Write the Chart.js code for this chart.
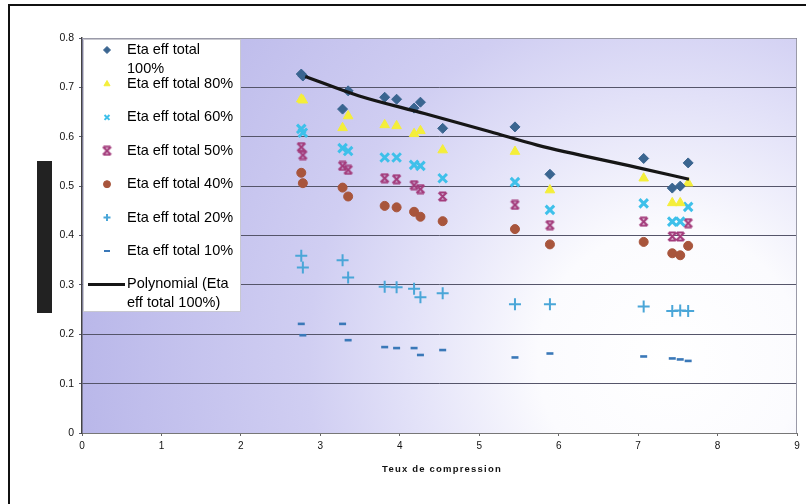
<!DOCTYPE html>
<html>
<head>
<meta charset="utf-8">
<script src="https://cdn.jsdelivr.net/npm/chart.js@4/dist/chart.umd.min.js"></script>
<style>
  html, body { margin: 0; padding: 0; background: #fff; }
  #wrap { width: 806px; height: 504px; position: relative; }
</style>
</head>
<body>
<div id="wrap"><canvas id="chart" width="806" height="504"></canvas></div>
<script>
// compression ratios (x) shared by every series
const xValues = [2.76, 2.78, 3.28, 3.35, 3.81, 3.96, 4.18, 4.26, 4.54, 5.45, 5.89, 7.07, 7.43, 7.53, 7.63];

const eta100 = [0.727, 0.723, 0.656, 0.693, 0.680, 0.676, 0.658, 0.670, 0.617, 0.620, 0.524, 0.556, 0.496, 0.500, 0.547];
const eta80  = [0.676, 0.674, 0.618, 0.642, 0.624, 0.622, 0.606, 0.612, 0.573, 0.570, 0.492, 0.516, 0.466, 0.466, 0.506];
const eta60  = [0.616, 0.608, 0.577, 0.571, 0.558, 0.558, 0.543, 0.541, 0.516, 0.508, 0.452, 0.465, 0.428, 0.428, 0.458];
const eta50  = [0.579, 0.563, 0.541, 0.533, 0.516, 0.514, 0.502, 0.494, 0.479, 0.462, 0.421, 0.428, 0.398, 0.398, 0.425];
const eta40  = [0.527, 0.506, 0.497, 0.479, 0.460, 0.457, 0.448, 0.438, 0.429, 0.413, 0.382, 0.387, 0.364, 0.360, 0.379];
const eta20  = [0.359, 0.335, 0.350, 0.315, 0.296, 0.295, 0.292, 0.275, 0.283, 0.261, 0.261, 0.256, 0.247, 0.248, 0.247];
const eta10  = [0.221, 0.198, 0.221, 0.188, 0.174, 0.172, 0.172, 0.158, 0.168, 0.153, 0.161, 0.155, 0.151, 0.149, 0.146];

// polynomial trendline of the 100% series
const trendX = [2.81, 3.48, 4.31, 5.14, 5.73, 6.98, 7.64];
const trendY = [0.722, 0.683, 0.647, 0.610, 0.583, 0.538, 0.514];

const legendLabels = [
    ['Eta eff total', '100%'],
    ['Eta eff total 80%'],
    ['Eta eff total 60%'],
    ['Eta eff total 50%'],
    ['Eta eff total 40%'],
    ['Eta eff total 20%'],
    ['Eta eff total 10%'],
    ['Polynomial (Eta', 'eff total 100%)']
];
const xTickLabels = ['0', '1', '2', '3', '4', '5', '6', '7', '8', '9'];
const yTickLabels = ['0', '0.1', '0.2', '0.3', '0.4', '0.5', '0.6', '0.7', '0.8'];
const xTitle = 'Teux de compression';

const FONT = '"Liberation Sans", Arial, sans-serif';

function toPoints(ys) {
    return ys.map((y, i) => ({ x: xValues[i], y: y }));
}

// excel-like "star" marker: x with bars top and bottom
function starMarker(color, size) {
    const c = document.createElement('canvas');
    c.width = size; c.height = size;
    const g = c.getContext('2d');
    g.strokeStyle = color;
    g.lineWidth = 2.2;
    const a = 1.5, b = size - 1.5;
    g.beginPath();
    g.moveTo(a, a); g.lineTo(b, b);
    g.moveTo(b, a); g.lineTo(a, b);
    g.moveTo(a + 0.5, a); g.lineTo(b - 0.5, a);
    g.moveTo(a + 0.5, b); g.lineTo(b - 0.5, b);
    g.stroke();
    return c;
}

const datasets = [
    { label: 'Eta eff total 100%', data: toPoints(eta100), pointStyle: 'rectRot', pointRadius: 5,
      backgroundColor: '#3a6590', borderColor: '#3a6590', borderWidth: 1 },
    { label: 'Eta eff total 80%', data: toPoints(eta80), pointStyle: 'triangle', pointRadius: 5.5,
      backgroundColor: '#f4ee3a', borderColor: '#f4ee3a', borderWidth: 1 },
    { label: 'Eta eff total 60%', data: toPoints(eta60), pointStyle: 'crossRot', pointRadius: 6,
      backgroundColor: '#3ec0ea', borderColor: '#3ec0ea', borderWidth: 3 },
    { label: 'Eta eff total 50%', data: toPoints(eta50), pointStyle: starMarker('#a33c7c', 11), pointRadius: 5,
      backgroundColor: '#a33c7c', borderColor: '#a33c7c', borderWidth: 1 },
    { label: 'Eta eff total 40%', data: toPoints(eta40), pointStyle: 'circle', pointRadius: 4.5,
      backgroundColor: '#a8553c', borderColor: '#a8553c', borderWidth: 1 },
    { label: 'Eta eff total 20%', data: toPoints(eta20), pointStyle: 'cross', pointRadius: 6,
      backgroundColor: '#4aa6d8', borderColor: '#4aa6d8', borderWidth: 2 },
    { label: 'Eta eff total 10%', data: toPoints(eta10), pointStyle: 'line', pointRadius: 3.5,
      backgroundColor: '#3a78b8', borderColor: '#3a78b8', borderWidth: 2.6 },
    { label: 'Polynomial (Eta eff total 100%)', type: 'line', data: trendX.map((x, i) => ({ x: x, y: trendY[i] })),
      showLine: true, pointRadius: 0, borderColor: '#161616', borderWidth: 3.2,
      cubicInterpolationMode: 'monotone', fill: false, order: 0 }
];
datasets.forEach((d, i) => { if (i < 7) d.order = 1; });

const decorPlugin = {
    id: 'decor',
    beforeDraw(chart) {
        const ctx = chart.ctx;
        const a = chart.chartArea;
        ctx.save();
        ctx.fillStyle = '#fff';
        ctx.fillRect(0, 0, chart.width, chart.height);
        // outer frame
        ctx.strokeStyle = '#111';
        ctx.lineWidth = 2;
        ctx.beginPath();
        ctx.moveTo(9, chart.height + 2);
        ctx.lineTo(9, 5);
        ctx.lineTo(chart.width + 2, 5);
        ctx.stroke();
        // plot background, lavender fading to white at lower right
        const grd = ctx.createRadialGradient(670, 360, 0, 670, 360, 660);
        grd.addColorStop(0, '#ffffff');
        grd.addColorStop(0.2, '#fbfbfe');
        grd.addColorStop(0.4, '#e2e1f8');
        grd.addColorStop(0.55, '#d0cef2');
        grd.addColorStop(0.8, '#c0beec');
        grd.addColorStop(1, '#b2b0e6');
        ctx.fillStyle = grd;
        ctx.fillRect(a.left, a.top, a.right - a.left, a.bottom - a.top);
        // redacted axis title block
        ctx.fillStyle = '#222';
        ctx.fillRect(37, 161, 15, 152);
        ctx.restore();
    },
    afterDraw(chart) {
        const ctx = chart.ctx;
        const a = chart.chartArea;
        ctx.save();
        // plot frame top / right
        ctx.strokeStyle = '#9a9aa8';
        ctx.lineWidth = 1;
        ctx.beginPath();
        ctx.moveTo(a.left, a.top + 0.5);
        ctx.lineTo(a.right - 0.5, a.top + 0.5);
        ctx.lineTo(a.right - 0.5, a.bottom);
        ctx.stroke();

        // x axis title
        ctx.fillStyle = '#111';
        ctx.font = 'bold 9.5px ' + FONT;
        ctx.letterSpacing = '1.2px';
        ctx.textAlign = 'center';
        ctx.textBaseline = 'middle';
        ctx.fillText(xTitle, 442, 469);
        ctx.letterSpacing = '0px';

        // legend box
        const lx = a.left + 1, ly = a.top + 1, lw = 158, lh = 273;
        ctx.fillStyle = '#fff';
        ctx.fillRect(lx, ly, lw, lh);
        ctx.strokeStyle = '#c8c8d0';
        ctx.strokeRect(lx + 0.5, ly + 0.5, lw - 1, lh - 1);

        ctx.font = '14.5px ' + FONT;
        ctx.textAlign = 'left';
        ctx.textBaseline = 'middle';
        chart.data.datasets.forEach((ds, i) => {
            const y = i === 0 ? 50 : 84 + (i - 1) * 33.4;
            if (i < 7) {
                ctx.fillStyle = ds.backgroundColor;
                ctx.strokeStyle = ds.borderColor;
                ctx.lineWidth = Math.min(ds.borderWidth, 2);
                const r = ds.pointStyle === 'line' ? 3 : 3.5;
                Chart.helpers.drawPoint(ctx, { pointStyle: ds.pointStyle, radius: r, rotation: 0, borderWidth: ctx.lineWidth }, 107, y);
            } else {
                ctx.strokeStyle = ds.borderColor;
                ctx.lineWidth = 3;
                ctx.beginPath();
                ctx.moveTo(88, y);
                ctx.lineTo(125, y);
                ctx.stroke();
            }
            ctx.fillStyle = '#000';
            legendLabels[i].forEach((line, k) => {
                ctx.fillText(line, 127, y + k * 19);
            });
        });
        ctx.restore();
    }
};

new Chart(document.getElementById('chart'), {
    type: 'scatter',
    data: { datasets: datasets },
    options: {
        responsive: false,
        animation: false,
        layout: { padding: { top: 38, right: 4, left: 0, bottom: 0 } },
        plugins: {
            legend: { display: false },
            tooltip: { enabled: false }
        },
        scales: {
            x: {
                type: 'linear',
                min: 0, max: 9,
                ticks: {
                    stepSize: 1,
                    color: '#111',
                    font: { family: FONT, size: 10 },
                    padding: 4,
                    maxRotation: 0,
                    callback: (v, i) => xTickLabels[i]
                },
                grid: { display: true, drawOnChartArea: false, tickLength: 3, color: '#666' },
                border: { color: '#777', width: 1 },
                afterFit: s => { s.height = 71; }
            },
            y: {
                type: 'linear',
                min: 0, max: 0.8,
                ticks: {
                    stepSize: 0.1,
                    color: '#111',
                    font: { family: FONT, size: 10.5 },
                    padding: 5,
                    callback: (v, i) => yTickLabels[i]
                },
                grid: { color: '#55556a', lineWidth: 1, tickLength: 3, drawTicks: true },
                border: { color: '#444', width: 1.5 },
                afterFit: s => { s.width = 82; }
            }
        }
    },
    plugins: [decorPlugin]
});
</script>
</body>
</html>
